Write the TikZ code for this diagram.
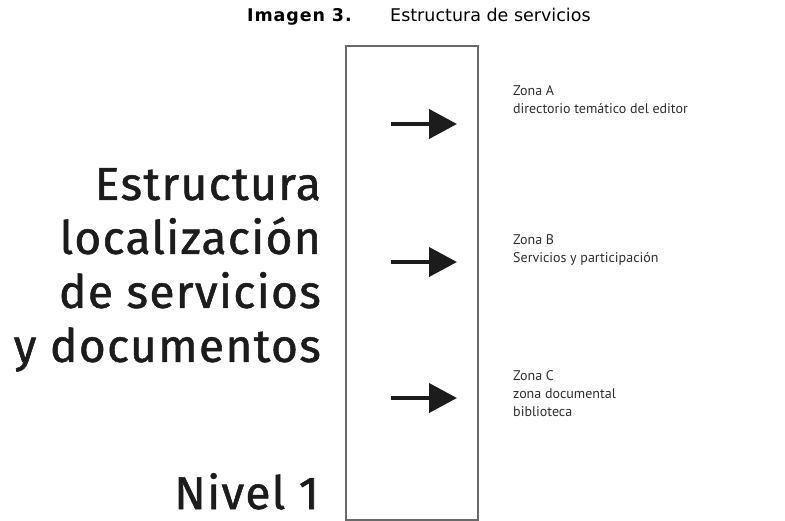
\documentclass[tikz,border=0pt]{standalone}
\usepackage{fontspec}
\setmainfont{DejaVu Sans}
\newfontfamily\dinfont{PT Sans}
\newfontfamily\bigfont[FakeBold=1.2,LetterSpace=3]{Fira Sans}
\usetikzlibrary{arrows.meta,positioning}
\definecolor{ink}{HTML}{1C1C1C}
\definecolor{frame}{HTML}{6A6A6A}
\definecolor{zoneink}{HTML}{2E2E2E}
\tikzset{
    every picture/.style={line join=miter},
    columnbox/.style={draw=frame,line width=1.6pt,inner sep=0pt,outer sep=0pt,
      minimum width=132pt,minimum height=474pt,anchor=north west},
    zonearrow/.style={-{Triangle[length=28pt,width=29pt]},draw=ink,line width=4pt},
    zonetext/.style={font=\dinfont\fontsize{14}{18}\selectfont,text=zoneink,
      align=left,inner sep=0pt,anchor=north west},
    bigtext/.style={font=\bigfont\fontsize{46}{54}\selectfont,text=ink,
      align=right,inner sep=0pt},
    titletext/.style={font=\fontsize{17.5}{20}\selectfont,text=black,
      inner sep=0pt,anchor=base west}
}

\begin{document}
\begin{tikzpicture}[x=1pt,y=-1pt]
  \useasboundingbox (0,0) rectangle (785,521);
  % caption
  \node[titletext] (fignum) at (247,22) {\bfseries\addfontfeature{LetterSpace=5}Imagen 3.};
  \node[titletext] (figcap) at (390,22) {Estructura de servicios};
  % column
  \node[columnbox] (col) at (346,46) {};
  % left titles
  \node[bigtext,anchor=north east] (struct) at (321,168)
    {Estructura\\localización\\de servicios\\y documentos};
  \node[bigtext,anchor=base east] (level) at (319,509) {Nivel 1};
  % arrows
  \coordinate (tailA) at (391,124); \coordinate (headA) at (457,124);
  \coordinate (tailB) at (391,262); \coordinate (headB) at (457,262);
  \coordinate (tailC) at (391,398); \coordinate (headC) at (457,398);
  \draw[zonearrow] (tailA) -- (headA);
  \draw[zonearrow] (tailB) -- (headB);
  \draw[zonearrow] (tailC) -- (headC);
  % zones
  \node[zonetext] (zoneA) at (513,85) {Zona A\\directorio temático del editor};
  \node[zonetext] (zoneB) at (513,234) {Zona B\\Servicios y participación};
  \node[zonetext] (zoneC) at (513,370) {Zona C\\zona documental\\biblioteca};
\end{tikzpicture}
\end{document}
